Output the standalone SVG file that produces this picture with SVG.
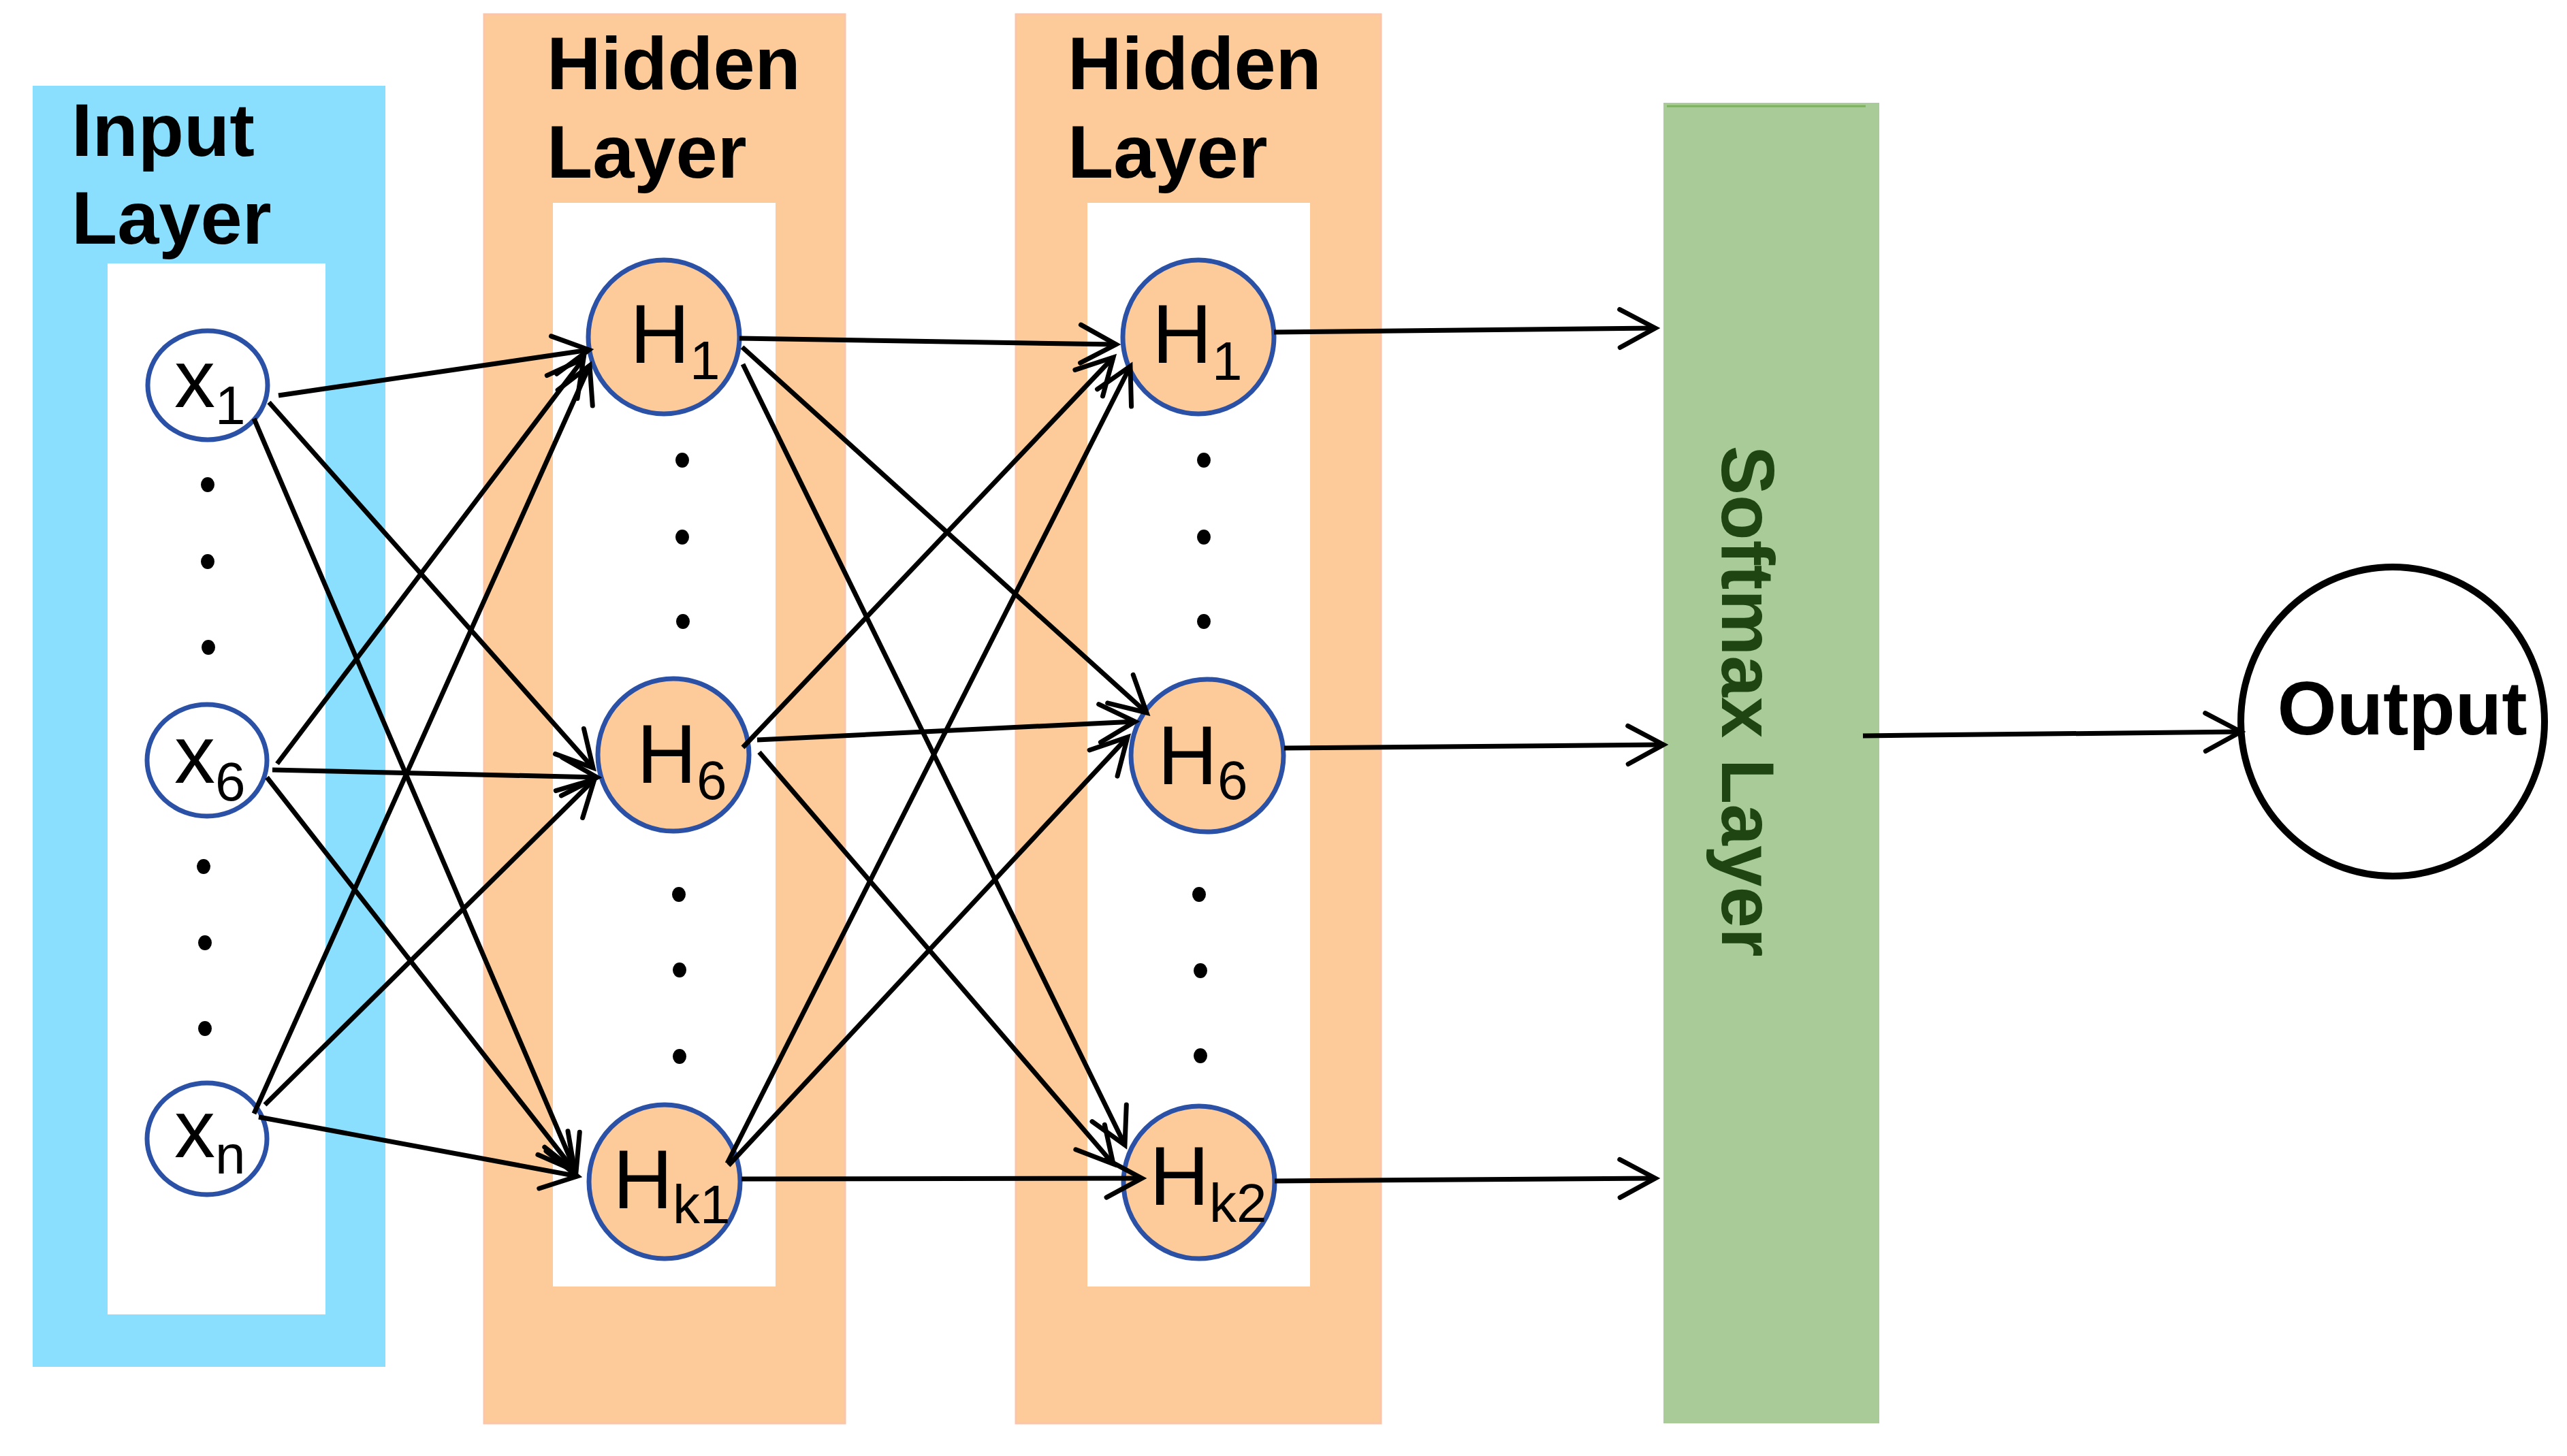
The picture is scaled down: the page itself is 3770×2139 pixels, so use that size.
<svg xmlns="http://www.w3.org/2000/svg" width="3770" height="2139" viewBox="0 0 3770 2139">
<style>
.lbl{font-family:"Liberation Sans",Arial,sans-serif;font-weight:bold;font-size:110px;fill:#000}
.nt{font-family:"Liberation Sans",Arial,sans-serif;font-size:122px;fill:#000}
.xt{font-family:"Liberation Sans",Arial,sans-serif;font-size:120px;fill:#000}
.sub{font-size:80px}
.inode{fill:#fff;stroke:#2b51a6;stroke-width:7}
.hnode{fill:#fdca99;stroke:#2b51a6;stroke-width:7}
.dot{fill:#000}
.orange{fill:#fdca99;stroke:#fbc5aa;stroke-width:3}
.inner{fill:#fff}
.conn line{stroke:#000;stroke-width:7;fill:none;marker-end:url(#arr)}
</style>
<defs>
<marker id="arr" markerUnits="userSpaceOnUse" viewBox="-60 -36 66 72" markerWidth="66" markerHeight="72" refX="0" refY="0" orient="auto" overflow="visible">
<path d="M-52,-28 L0,0 L-52,28" fill="none" stroke="#000" stroke-width="7" stroke-linecap="round" stroke-linejoin="miter"/>
</marker>
</defs>
<rect width="3770" height="2139" fill="#fff"/>

<g id="input-layer">
<rect x="48" y="126" width="518" height="1882" fill="#8adffe"/>
<rect class="inner" x="158" y="387" width="320" height="1544"/>
<text class="lbl" x="105" y="229">Input</text>
<text class="lbl" x="105" y="358">Layer</text>
<ellipse class="dot" cx="305" cy="712" rx="10" ry="11"/>
<ellipse class="dot" cx="305" cy="825" rx="10" ry="11"/>
<ellipse class="dot" cx="306" cy="951" rx="10" ry="11"/>
<ellipse class="dot" cx="299" cy="1273" rx="10" ry="11"/>
<ellipse class="dot" cx="301" cy="1385" rx="10" ry="11"/>
<ellipse class="dot" cx="301" cy="1511" rx="10" ry="11"/>
</g>

<g id="hidden-layer-1">
<rect class="orange" x="711" y="21" width="530" height="2070"/>
<rect class="inner" x="812" y="298" width="327" height="1592"/>
<text class="lbl" x="803" y="131">Hidden</text>
<text class="lbl" x="803" y="261">Layer</text>
<ellipse class="dot" cx="1002" cy="676" rx="10" ry="11"/>
<ellipse class="dot" cx="1002" cy="789" rx="10" ry="11"/>
<ellipse class="dot" cx="1003" cy="913" rx="10" ry="11"/>
<ellipse class="dot" cx="997" cy="1314" rx="10" ry="11"/>
<ellipse class="dot" cx="998" cy="1425" rx="10" ry="11"/>
<ellipse class="dot" cx="998" cy="1552" rx="10" ry="11"/>
</g>

<g id="hidden-layer-2">
<rect class="orange" x="1492" y="21" width="536" height="2070"/>
<rect class="inner" x="1597" y="298" width="327" height="1592"/>
<text class="lbl" x="1568" y="131">Hidden</text>
<text class="lbl" x="1568" y="261">Layer</text>
<ellipse class="dot" cx="1768" cy="676" rx="10" ry="11"/>
<ellipse class="dot" cx="1768" cy="789" rx="10" ry="11"/>
<ellipse class="dot" cx="1768" cy="913" rx="10" ry="11"/>
<ellipse class="dot" cx="1761" cy="1314" rx="10" ry="11"/>
<ellipse class="dot" cx="1763" cy="1426" rx="10" ry="11"/>
<ellipse class="dot" cx="1763" cy="1551" rx="10" ry="11"/>
</g>

<g id="softmax-layer">
<rect x="2443" y="151" width="317" height="1940" fill="#a9cb98"/>
<line x1="2448" y1="156" x2="2740" y2="156" stroke="#7cb35a" stroke-width="3"/>
<text transform="translate(2529,1030) rotate(90)" text-anchor="middle" font-family="'Liberation Sans',Arial,sans-serif" font-weight="bold" font-size="109" fill="#1f4612">Softmax Layer</text>
</g>

<g id="node-x1"><ellipse class="inode" cx="305" cy="566" rx="88" ry="80"/><text class="xt" x="256" y="598">x<tspan class="sub" dy="25">1</tspan></text></g>
<g id="node-x6"><ellipse class="inode" cx="304" cy="1117" rx="88" ry="82"/><text class="xt" x="256" y="1150">x<tspan class="sub" dy="26">6</tspan></text></g>
<g id="node-xn"><ellipse class="inode" cx="304" cy="1673" rx="88" ry="82"/><text class="xt" x="256" y="1700">x<tspan class="sub" dy="24">n</tspan></text></g>

<g id="node-h1-1"><ellipse class="hnode" cx="975" cy="495" rx="111" ry="113"/><text class="nt" x="925" y="533">H<tspan class="sub" dy="24">1</tspan></text></g>
<g id="node-h6-1"><ellipse class="hnode" cx="989" cy="1109" rx="111" ry="112"/><text class="nt" x="935" y="1150">H<tspan class="sub" dy="24">6</tspan></text></g>
<g id="node-hk1"><ellipse class="hnode" cx="976" cy="1736" rx="111" ry="113"/><text class="nt" x="900" y="1775">H<tspan class="sub" dy="22">k1</tspan></text></g>

<g id="node-h1-2"><ellipse class="hnode" cx="1760" cy="495" rx="111" ry="113"/><text class="nt" x="1692" y="533">H<tspan class="sub" dy="25">1</tspan></text></g>
<g id="node-h6-2"><ellipse class="hnode" cx="1773" cy="1110" rx="112" ry="112"/><text class="nt" x="1700" y="1152">H<tspan class="sub" dy="22">6</tspan></text></g>
<g id="node-hk2"><ellipse class="hnode" cx="1761" cy="1737" rx="111" ry="112"/><text class="nt" x="1688" y="1770">H<tspan class="sub" dy="25">k2</tspan></text></g>

<g id="node-output"><ellipse cx="3514" cy="1060" rx="223" ry="227" fill="#fff" stroke="#000" stroke-width="10"/><text x="3528" y="1079" text-anchor="middle" font-family="'Liberation Sans',Arial,sans-serif" font-weight="bold" font-size="112">Output</text></g>

<g id="connectors" class="conn">
<line x1="409" y1="581" x2="865" y2="514"/>
<line x1="395" y1="591" x2="871" y2="1128"/>
<line x1="373" y1="615" x2="846" y2="1722"/>
<line x1="407" y1="1122" x2="857" y2="527"/>
<line x1="400" y1="1131" x2="877" y2="1142"/>
<line x1="392" y1="1142" x2="844" y2="1720"/>
<line x1="373" y1="1636" x2="866" y2="537"/>
<line x1="389" y1="1623" x2="873" y2="1145"/>
<line x1="380" y1="1641" x2="848" y2="1728"/>
<line x1="1086" y1="497" x2="1639" y2="506"/>
<line x1="1090" y1="510" x2="1684" y2="1047"/>
<line x1="1091" y1="535" x2="1652" y2="1682"/>
<line x1="1091" y1="1098" x2="1635" y2="525"/>
<line x1="1112" y1="1087" x2="1667" y2="1060"/>
<line x1="1115" y1="1105" x2="1635" y2="1710"/>
<line x1="1068" y1="1709" x2="1660" y2="538"/>
<line x1="1070" y1="1712" x2="1656" y2="1083"/>
<line x1="1089" y1="1732" x2="1677" y2="1731"/>
<line x1="1871" y1="488" x2="2431" y2="482"/>
<line x1="1886" y1="1099" x2="2443" y2="1094"/>
<line x1="1872" y1="1735" x2="2431" y2="1731"/>
<line x1="2736" y1="1081" x2="3291" y2="1075"/>
</g>
</svg>
